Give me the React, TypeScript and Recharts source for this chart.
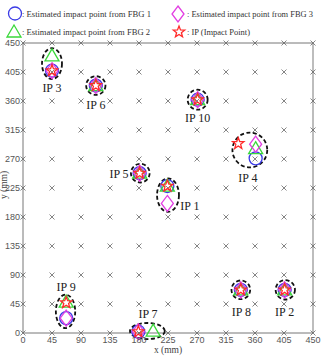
import React from "react";
import { ReferenceLine, Scatter, ScatterChart, XAxis, YAxis } from "recharts";

// plate coordinates in mm
const AXIS_TICKS = [0, 45, 90, 135, 180, 225, 270, 315, 360, 405, 450];

const IP_NAMES = ["IP 1", "IP 2", "IP 3", "IP 4", "IP 5", "IP 6", "IP 7", "IP 8", "IP 9", "IP 10"];

// true impact points
const IMPACT_X = [224, 406, 45, 334, 181, 113, 179, 338, 67, 271];
const IMPACT_Y = [228, 67, 407, 294, 248, 384, 2, 67, 47, 362];

// estimates from each FBG sensor
const FBG1_X = [224, 406, 45, 361, 181, 113, 179, 338, 67, 271];
const FBG1_Y = [228, 67, 407, 271, 248, 384, 2, 67, 23, 362];
const FBG2_X = [224, 406, 45, 361, 181, 113, 202, 338, 67, 271];
const FBG2_Y = [228, 67, 430, 286, 248, 384, 3, 67, 48, 362];
const FBG3_X = [224, 406, 45, 361, 181, 113, 179, 338, 67, 271];
const FBG3_Y = [201, 67, 407, 293, 248, 384, 2, 67, 23, 362];

// dashed error regions around each impact (centre and half-axes, mm)
const REGION_X = [225, 407, 45, 352, 182, 113, 193, 338, 66, 271];
const REGION_Y = [214, 67, 418, 284, 248, 384, 3, 67, 33.5, 362];
const REGION_RX = [17, 15, 15.5, 27, 14.5, 15, 27, 14.5, 15, 15.5];
const REGION_RY = [26, 15, 24, 27, 14.5, 14.5, 12.5, 14.5, 26, 15.5];

// where the IP names sit, mm
const NAME_X = [259, 406, 45, 349, 149, 113, 194, 339, 67, 271];
const NAME_Y = [197, 32, 380, 240, 247, 354, 30, 32, 72, 334];

const LEGEND_TEXT = [
  ": Estimated impact point from FBG 1",
  ": Estimated impact point from FBG 2",
  ": Estimated impact point from FBG 3",
  ": IP (Impact Point)",
];

const W = 321;
const H = 357;
const PLOT_LEFT = 23;
const PLOT_TOP = 43;
const PLOT_SIZE = 290;
const PX_PER_MM = PLOT_SIZE / 450;

const BLUE = "#3a3ae6";
const GREEN = "#3ad83a";
const MAGENTA = "#e23ee2";
const RED = "#ff2a2a";

const zip = (xs: number[], ys: number[]) => xs.map((x, i) => ({ x, y: ys[i] }));

const grid = AXIS_TICKS.flatMap((x) => AXIS_TICKS.map((y) => ({ x, y })));
const impacts = zip(IMPACT_X, IMPACT_Y);
const fbg1 = zip(FBG1_X, FBG1_Y);
const fbg2 = zip(FBG2_X, FBG2_Y);
const fbg3 = zip(FBG3_X, FBG3_Y);
const regions = REGION_X.map((x, i) => ({ x, y: REGION_Y[i], rx: REGION_RX[i], ry: REGION_RY[i] }));
const names = NAME_X.map((x, i) => ({ x, y: NAME_Y[i], name: IP_NAMES[i] }));

function starPath(cx: number, cy: number, r: number) {
  const inner = r * 0.42;
  let d = "";
  for (let i = 0; i < 10; i++) {
    const rad = i % 2 === 0 ? r : inner;
    const a = -Math.PI / 2 + (i * Math.PI) / 5;
    d += `${i === 0 ? "M" : "L"}${cx + rad * Math.cos(a)},${cy + rad * Math.sin(a)}`;
  }
  return d + "Z";
}

const CircleMark = ({ cx, cy, color = BLUE }: any) => (
  <circle cx={cx} cy={cy} r={6.5} fill="none" stroke={color} strokeWidth={1.3} />
);

const TriangleMark = ({ cx, cy, color = GREEN }: any) => (
  <path
    d={`M${cx},${cy - 7}L${cx + 7},${cy + 5}L${cx - 7},${cy + 5}Z`}
    fill="none"
    stroke={color}
    strokeWidth={1.3}
  />
);

const DiamondMark = ({ cx, cy, color = MAGENTA }: any) => (
  <path
    d={`M${cx},${cy - 8}L${cx + 6},${cy}L${cx},${cy + 8}L${cx - 6},${cy}Z`}
    fill="none"
    stroke={color}
    strokeWidth={1.3}
  />
);

const StarMark = ({ cx, cy, color = RED }: any) => (
  <path d={starPath(cx, cy, 6)} fill="none" stroke={color} strokeWidth={1.3} />
);

const GridMark = ({ cx, cy }: any) => (
  <path
    d={`M${cx - 2.5},${cy - 2.5}L${cx + 2.5},${cy + 2.5}M${cx - 2.5},${cy + 2.5}L${cx + 2.5},${cy - 2.5}`}
    stroke="#666"
    strokeWidth={0.8}
  />
);

const RegionMark = ({ cx, cy, payload }: any) => (
  <ellipse
    cx={cx}
    cy={cy}
    rx={payload.rx * PX_PER_MM}
    ry={payload.ry * PX_PER_MM}
    fill="none"
    stroke="#111"
    strokeWidth={1.8}
    strokeDasharray="4 2.5"
  />
);

const NameMark = ({ cx, cy, payload }: any) => (
  <text
    x={cx}
    y={cy}
    textAnchor="middle"
    dominantBaseline="central"
    fontFamily="Liberation Serif"
    fontSize={12}
    fill="#222"
  >
    {payload.name}
  </text>
);

const legendFont = {
  fontFamily: "Liberation Serif",
  fontSize: 9,
  fill: "#333",
  dominantBaseline: "central" as const,
  lengthAdjust: "spacingAndGlyphs" as const,
};

function Overlay() {
  return (
    <svg width={W} height={H} style={{ position: "absolute", left: 0, top: 0, pointerEvents: "none" }}>
      <CircleMark cx={15} cy={13.5} />
      <text x={22} y={13.5} textLength={129} {...legendFont}>
        {LEGEND_TEXT[0]}
      </text>
      <DiamondMark cx={178} cy={14} />
      <text x={187} y={13.5} textLength={126} {...legendFont}>
        {LEGEND_TEXT[2]}
      </text>
      <TriangleMark cx={14} cy={32} />
      <text x={22} y={31.5} textLength={128} {...legendFont}>
        {LEGEND_TEXT[1]}
      </text>
      <StarMark cx={179} cy={32} />
      <text x={187} y={31.5} textLength={63} {...legendFont}>
        {LEGEND_TEXT[3]}
      </text>
      <text
        x={PLOT_LEFT + PLOT_SIZE / 2}
        y={350}
        textAnchor="middle"
        dominantBaseline="central"
        fontFamily="Liberation Serif"
        fontSize={9.5}
        fill="#444"
      >
        x (mm)
      </text>
      <text
        x={4}
        y={185}
        textAnchor="middle"
        dominantBaseline="central"
        fontFamily="Liberation Serif"
        fontSize={9.5}
        fill="#444"
        transform="rotate(-90 4 185)"
      >
        y (mm)
      </text>
    </svg>
  );
}

export default function App() {
  const tick = { fill: "#555", fontSize: 9, fontFamily: "Liberation Sans" };
  return (
    <div style={{ position: "absolute", left: 0, top: 0, width: W, height: H, background: "#fff" }}>
      <ScatterChart
        width={W}
        height={H}
        margin={{ top: PLOT_TOP, right: W - PLOT_LEFT - PLOT_SIZE, bottom: 0, left: 0 }}
      >
        <XAxis
          type="number"
          dataKey="x"
          domain={[0, 450]}
          ticks={AXIS_TICKS}
          interval={0}
          height={H - PLOT_TOP - PLOT_SIZE}
          tickSize={0}
          tickMargin={4}
          tickLine={false}
          axisLine={{ stroke: "#777" }}
          tick={tick}
        />
        <YAxis
          type="number"
          dataKey="y"
          domain={[0, 450]}
          ticks={AXIS_TICKS}
          interval={0}
          width={PLOT_LEFT}
          tickSize={0}
          tickMargin={3}
          tickLine={false}
          axisLine={{ stroke: "#777" }}
          tick={tick}
        />
        <ReferenceLine y={450} stroke="#777" />
        <ReferenceLine x={450} stroke="#bdbdbd" strokeWidth={2} />
        <Scatter data={grid} shape={GridMark} isAnimationActive={false} />
        <Scatter data={regions} shape={RegionMark} isAnimationActive={false} />
        <Scatter data={fbg1} shape={CircleMark} isAnimationActive={false} />
        <Scatter data={fbg2} shape={TriangleMark} isAnimationActive={false} />
        <Scatter data={fbg3} shape={DiamondMark} isAnimationActive={false} />
        <Scatter data={impacts} shape={StarMark} isAnimationActive={false} />
        <Scatter data={names} shape={NameMark} isAnimationActive={false} />
      </ScatterChart>
      <Overlay />
    </div>
  );
}
